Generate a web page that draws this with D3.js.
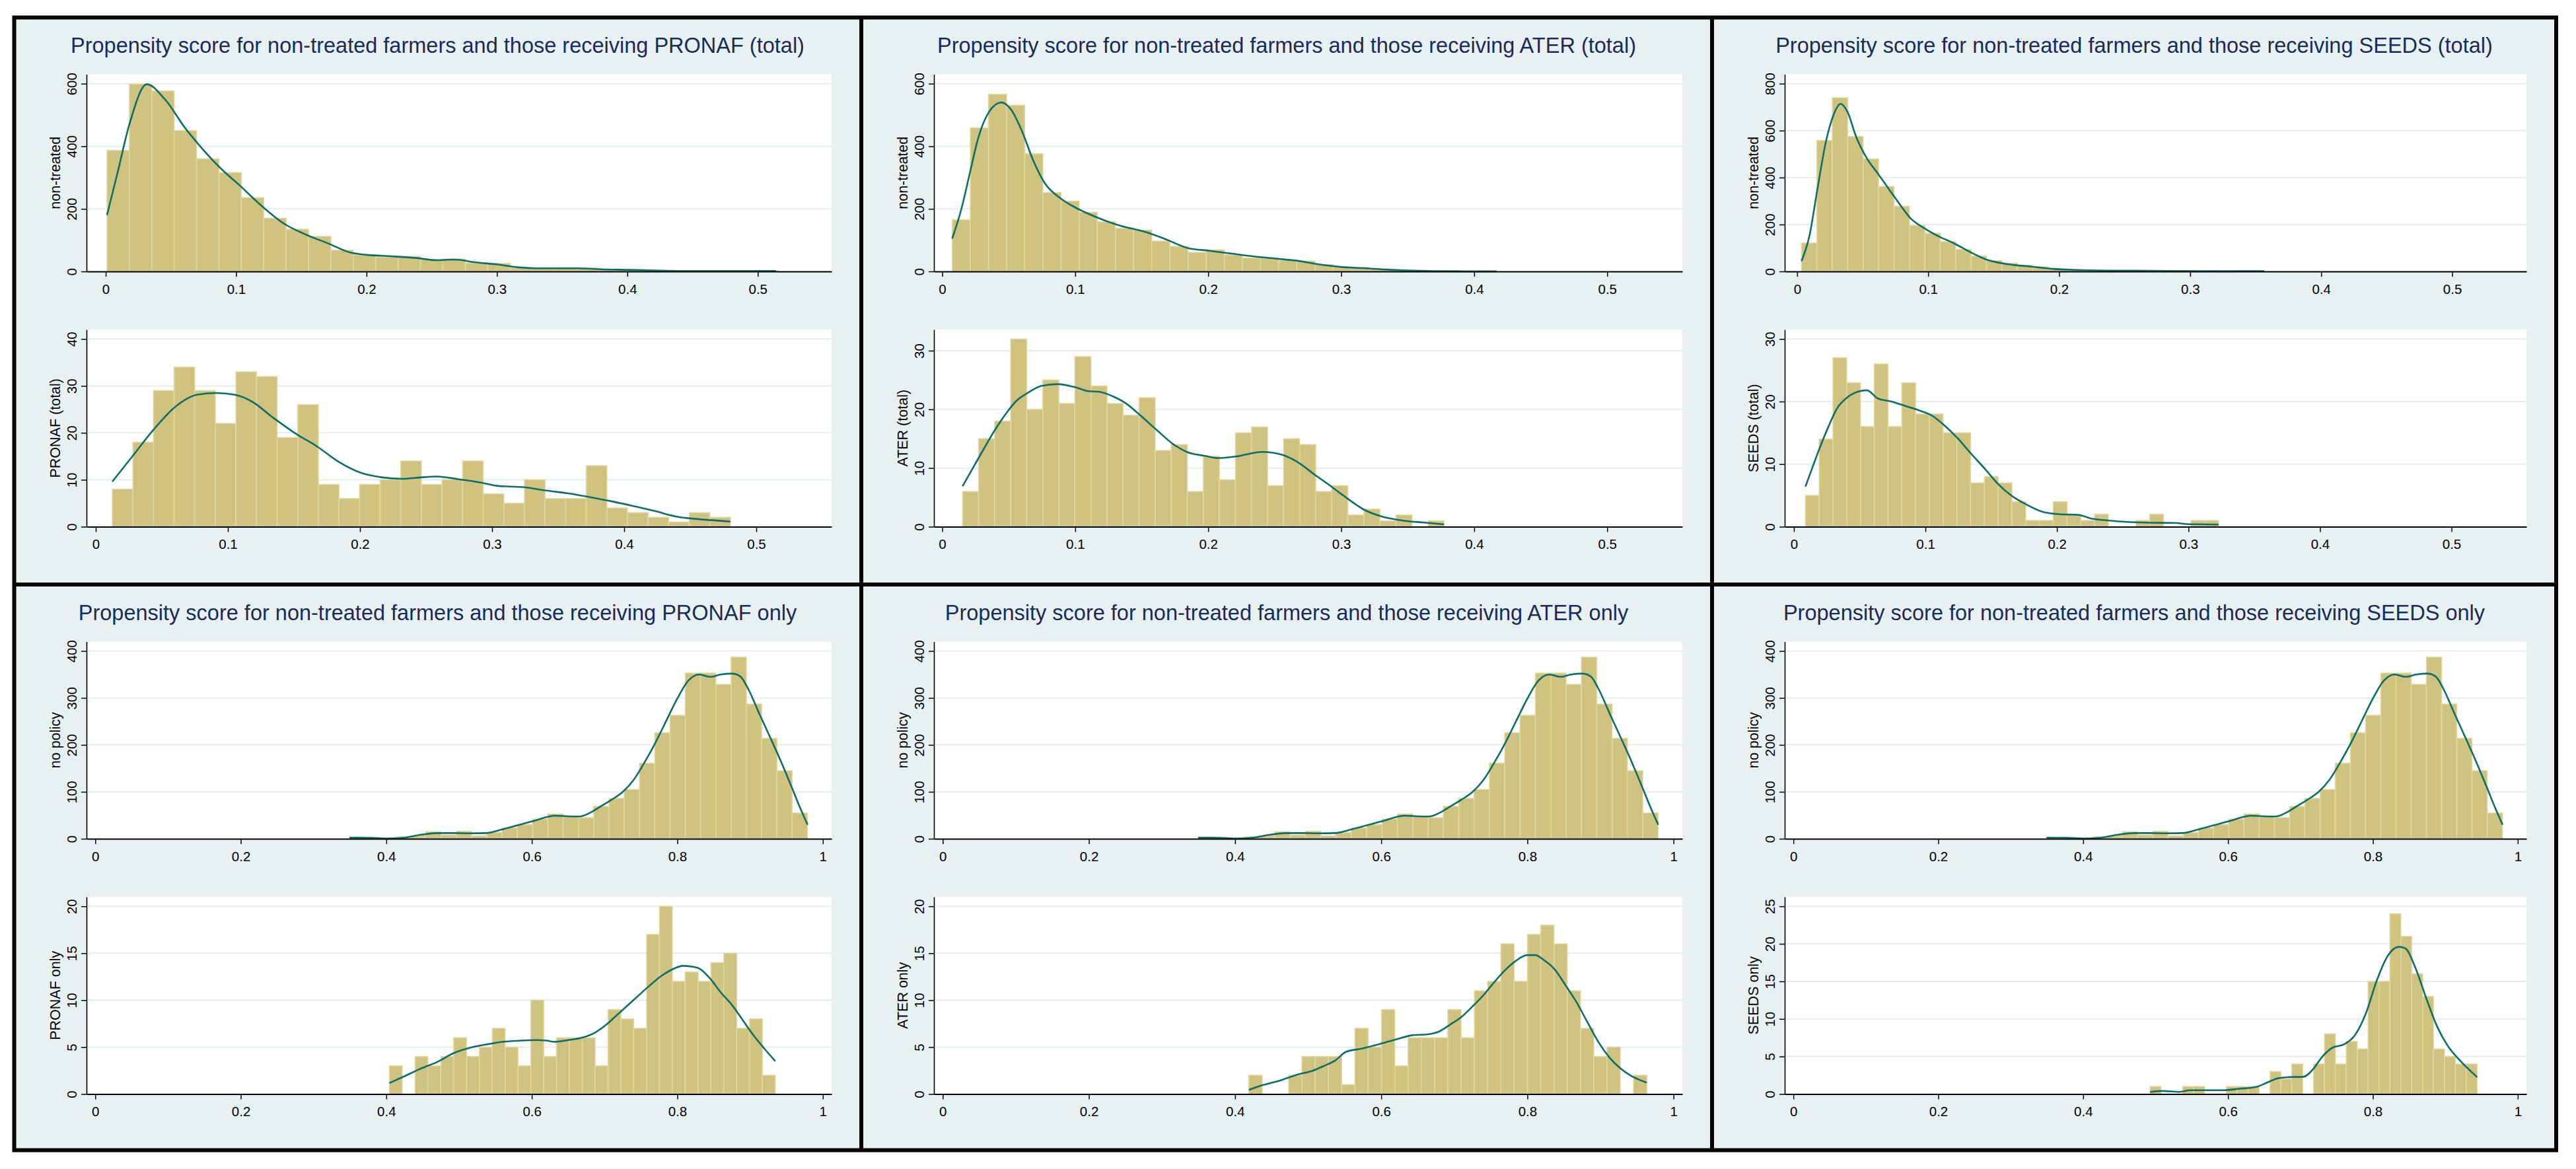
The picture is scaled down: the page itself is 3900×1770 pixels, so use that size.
<!DOCTYPE html>
<html>
<head>
<meta charset="utf-8">
<script src="https://cdn.jsdelivr.net/npm/d3@7"></script>
<style>
  body { margin: 0; background: #fff; }
  text { font-family: "Liberation Sans", Arial, sans-serif; }
</style>
</head>
<body>
<svg id="chart"></svg>
<script>
// ---- text ----
var programs = ["PRONAF", "ATER", "SEEDS"];
var titlesTotal = programs.map(function(p) { return "Propensity score for non-treated farmers and those receiving " + p + " (total)"; });
var titlesOnly = programs.map(function(p) { return "Propensity score for non-treated farmers and those receiving " + p + " only"; });
var yTitlesTotal = ["PRONAF (total)", "ATER (total)", "SEEDS (total)"];
var yTitlesOnly = ["PRONAF only", "ATER only", "SEEDS only"];

// ---- axis ticks / ranges ----
var xTicksTotal = [0, 0.1, 0.2, 0.3, 0.4, 0.5];
var xTicksOnly = [0, 0.2, 0.4, 0.6, 0.8, 1];
var xRangeTotalTop = [[-0.0147, 0.5566], [-0.0062, 0.5565], [-0.0095, 0.5567]];
var xRangeTotalBottom = [[-0.007, 0.557], [-0.0062, 0.5565], [-0.007, 0.557]];
var xRangeOnly = [-0.012, 1.012];
var yTicksNT = [[0, 200, 400, 600], [0, 200, 400, 600], [0, 200, 400, 600, 800]];
var yTicksTotal = [[0, 10, 20, 30, 40], [0, 10, 20, 30], [0, 10, 20, 30]];
var yTicksNoPolicy = [0, 100, 200, 300, 400];
var yTicksOnly = [[0, 5, 10, 15, 20], [0, 5, 10, 15, 20], [0, 5, 10, 15, 20, 25]];

// ---- histogram counts, bins = [first edge, bin width] ----
var ntPronafCounts = [387,599,577,450,360,316,236,170,135,112,68,53,46,48,38,40,27,26,13,12,12,10,7,6,3,2,2,2,2,3];
var ntPronafBins = [0.001, 0.01717];
var pronafTotalCounts = [8,18,29,34,29,22,33,32,19,26,9,6,9,10,14,9,10,14,7,5,10,6,6,13,4,3,2,1,3,2];
var pronafTotalBins = [0.0125, 0.0156];
var ntAterCounts = [165,459,566,531,376,252,225,189,159,138,132,97,80,61,69,53,43,43,36,33,22,13,13,8,3,1,3,3,0,3];
var ntAterBins = [0.0075, 0.01364];
var aterTotalCounts = [6,15,18,32,20,25,21,29,24,21,19,22,13,14,6,12,8,16,17,7,15,14,6,7,2,3,1,2,0,1];
var aterTotalBins = [0.0153, 0.01207];
var ntSeedsCounts = [121,558,740,575,479,362,278,196,163,127,94,66,46,35,26,20,11,8,6,5,4,4,3,3,2,3,3,1,3,3];
var ntSeedsBins = [0.0033, 0.01177];
var seedsTotalCounts = [5,14,27,23,16,26,16,23,18,18,15,15,7,8,7,4,1,1,4,2,1,2,0,0,1,2,0,0,1,1];
var seedsTotalBins = [0.00875, 0.01047];

var noPolicyCounts = [1,0,1,4,6,15,8,16,6,13,23,30,42,53,48,45,69,86,105,161,226,263,353,353,329,387,287,214,145,55];
var noPolicyBins = [0.3494, 0.02098];
var pronafOnlyCounts = [3,0,4,3,4,6,4,5,7,5,3,10,4,6,6,6,3,9,8,7,17,20,12,13,12,14,15,7,8,2];
var pronafOnlyBins = [0.4042, 0.01768];
var aterOnlyCounts = [2,0,0,2,4,4,4,1,7,5,9,3,6,6,6,9,6,11,12,16,12,17,18,16,11,7,4,5,0,2];
var aterOnlyBins = [0.4189, 0.01815];
var seedsOnlyCounts = [1,0,0,1,1,0,0,1,1,1,0,3,2,4,0,4,8,4,7,6,15,15,24,21,16,13,6,5,4,4];
var seedsOnlyBins = [0.4924, 0.01505];

// ---- density curves [score, frequency] ----
var ntPronafDens = [[0.001,180],[0.009,314],[0.0185,475],[0.0315,598],[0.045,552],[0.0617,454],[0.070,412],[0.0868,335],[0.1035,272],[0.120,208],[0.137,152],[0.154,117],[0.171,89],[0.187,61],[0.200,53],[0.212,50],[0.238,43],[0.254,36],[0.267,38],[0.284,29],[0.3006,22],[0.317,13],[0.330,10],[0.363,10],[0.380,7],[0.401,5],[0.422,3],[0.443,1.5],[0.514,1.5]];
var pronafTotalDens = [[0.0125,9.6],[0.0269,14.7],[0.0435,20.6],[0.060,25.5],[0.0765,28.1],[0.091,28.5],[0.1055,28.1],[0.118,26.7],[0.1344,23.2],[0.151,19.9],[0.1675,17.1],[0.184,13.8],[0.2005,11.5],[0.217,10.5],[0.2316,10.2],[0.246,10.5],[0.258,10.7],[0.275,10.1],[0.2915,9.4],[0.304,8.7],[0.3245,8.4],[0.341,7.7],[0.3576,7.1],[0.374,6.3],[0.3907,5.4],[0.407,4.4],[0.4237,3.3],[0.4403,2.1],[0.457,1.6],[0.4804,1.1]];
var ntAterDens = [[0.0075,105],[0.0145,201],[0.0207,313],[0.027,425],[0.0352,510],[0.0444,540],[0.0518,517],[0.0601,447],[0.0684,355],[0.0767,285],[0.0891,233],[0.1016,201],[0.118,170],[0.1347,145],[0.1513,128],[0.168,103],[0.1845,75],[0.201,66],[0.2177,57],[0.2343,48],[0.2508,41],[0.2674,34],[0.284,22],[0.3006,14],[0.3172,10.5],[0.3337,6],[0.3503,3],[0.371,1],[0.4167,0]];
var aterTotalDens = [[0.0153,6.9],[0.0228,9.9],[0.0311,13.2],[0.0394,16.4],[0.0477,19.2],[0.056,21.5],[0.0643,22.8],[0.0746,24.0],[0.087,24.3],[0.0995,23.8],[0.1099,23.1],[0.1182,23.0],[0.1285,22.2],[0.1389,20.9],[0.1493,18.9],[0.1617,16.4],[0.1741,14.0],[0.1845,12.7],[0.1969,12.1],[0.2073,11.7],[0.2218,12.0],[0.2405,12.75],[0.255,12.3],[0.2674,11.0],[0.2799,8.9],[0.2923,6.9],[0.3047,4.8],[0.3172,2.9],[0.3296,1.8],[0.3462,1.05],[0.3628,0.7],[0.3773,0.4]];
var ntSeedsDens = [[0.0033,44],[0.0092,147],[0.0155,352],[0.0218,549],[0.028,670],[0.0331,714],[0.0385,679],[0.0448,577],[0.0531,483],[0.0615,418],[0.0699,352],[0.0782,287],[0.0866,226],[0.0971,184],[0.1075,151],[0.12,119],[0.1326,81],[0.1452,49],[0.1619,30],[0.1787,20.6],[0.1954,11],[0.2121,6.5],[0.2372,3.7],[0.2707,2.8],[0.3126,1],[0.3565,1]];
var seedsTotalDens = [[0.00875,6.4],[0.0138,9.3],[0.02,12.8],[0.0263,16],[0.0325,18.8],[0.0408,20.7],[0.0492,21.6],[0.0554,21.8],[0.0638,20.5],[0.0742,20.0],[0.0846,19.3],[0.095,18.6],[0.1054,17.7],[0.1138,16.3],[0.1242,14.2],[0.1346,11.7],[0.145,9.3],[0.1554,6.8],[0.1658,4.9],[0.1763,3.6],[0.1888,2.4],[0.2013,2.0],[0.2158,1.9],[0.2263,1.3],[0.2388,1.0],[0.2554,0.74],[0.2721,0.63],[0.2888,0.6],[0.3013,0.39],[0.3229,0.35]];
var noPolicyDens = [[0.3494,2.3],[0.3794,1.9],[0.402,0.5],[0.4245,2.3],[0.447,8.4],[0.4696,12.2],[0.4921,12.2],[0.5147,11.7],[0.5372,12.2],[0.5597,20.2],[0.5823,29.5],[0.6048,38.9],[0.6198,46],[0.6311,49.2],[0.6499,47.8],[0.6649,47.4],[0.68,55.3],[0.695,69.4],[0.71,83.5],[0.725,99.9],[0.74,125.7],[0.755,163],[0.77,205],[0.785,252],[0.8001,299],[0.8152,337],[0.83,350],[0.845,345],[0.86,350],[0.875,352],[0.8865,346],[0.8978,318],[0.9128,266],[0.9279,215],[0.9429,163],[0.958,107],[0.969,65],[0.979,30]];
var pronafOnlyDens = [[0.4042,1.17],[0.4245,1.88],[0.447,2.7],[0.4696,3.4],[0.4921,4.34],[0.5147,4.93],[0.5372,5.28],[0.5597,5.56],[0.5823,5.68],[0.6048,5.75],[0.6198,5.7],[0.6311,5.56],[0.6499,5.75],[0.6687,5.99],[0.6875,6.57],[0.7025,7.4],[0.7175,8.45],[0.7325,9.5],[0.7476,10.56],[0.7626,11.6],[0.7776,12.56],[0.7926,13.26],[0.8077,13.66],[0.8227,13.54],[0.83,13.38],[0.845,12.3],[0.86,10.8],[0.875,9.5],[0.89,7.86],[0.905,6.22],[0.92,4.8],[0.9346,3.5]];
var aterOnlyDens = [[0.4189,0.44],[0.4392,0.98],[0.4617,1.45],[0.4842,2.04],[0.5068,2.5],[0.5218,3.0],[0.5368,3.56],[0.5518,4.5],[0.5743,4.85],[0.5968,5.3],[0.6194,5.8],[0.6419,6.25],[0.6644,6.37],[0.6794,6.67],[0.6944,7.4],[0.7095,8.2],[0.7245,9.3],[0.7395,10.5],[0.7545,11.9],[0.7695,13.2],[0.7845,14.2],[0.7996,14.8],[0.8108,14.8],[0.8221,14.3],[0.8371,13.3],[0.8521,11.6],[0.8671,9.8],[0.8821,7.66],[0.8971,5.55],[0.9122,3.9],[0.9272,2.74],[0.9422,1.92],[0.9632,1.22]];
var seedsOnlyDens = [[0.4924,0.29],[0.5098,0.41],[0.5326,0.29],[0.5477,0.5],[0.5705,0.5],[0.5932,0.5],[0.6159,0.7],[0.6386,0.94],[0.6538,1.52],[0.6689,2.1],[0.6841,2.25],[0.7038,2.3],[0.7182,3.4],[0.7295,4.9],[0.7447,6.2],[0.7598,6.6],[0.775,7.8],[0.7902,10.7],[0.8053,15.1],[0.8205,18.4],[0.8356,19.6],[0.8447,19.4],[0.8583,16.9],[0.8735,12.8],[0.8886,9.0],[0.9038,6.35],[0.9189,4.6],[0.9439,2.25]];

// group the arrays per panel
var ntCounts = [ntPronafCounts, ntAterCounts, ntSeedsCounts];
var ntBins = [ntPronafBins, ntAterBins, ntSeedsBins];
var ntDens = [ntPronafDens, ntAterDens, ntSeedsDens];
var totalCounts = [pronafTotalCounts, aterTotalCounts, seedsTotalCounts];
var totalBins = [pronafTotalBins, aterTotalBins, seedsTotalBins];
var totalDens = [pronafTotalDens, aterTotalDens, seedsTotalDens];
var onlyCounts = [pronafOnlyCounts, aterOnlyCounts, seedsOnlyCounts];
var onlyBins = [pronafOnlyBins, aterOnlyBins, seedsOnlyBins];
var onlyDens = [pronafOnlyDens, aterOnlyDens, seedsOnlyDens];

// ---- layout ----
var svgWidth = 3900, svgHeight = 1770;
var colBounds = [[24, 1301], [1307, 2589], [2595, 3867]];
var rowBounds = [[29, 882], [888, 1739]];
var plotLeft = 107, plotRight = 42, plotTops = [83.5, 470], plotH = 298.5;

var bg = "#e8f1f2", barFill = "#cfc37f", barEdge = "#e1d8a3", lineCol = "#0c6e66";

var svg = d3.select("#chart")
  .attr("width", svgWidth)
  .attr("height", svgHeight);

svg.append("rect").attr("width", svgWidth).attr("height", svgHeight).attr("fill", "#fff");

function drawHist(spec, left, top, w, h) {
  var g = svg.append("g").attr("transform", "translate(" + left + "," + top + ")");
  g.append("rect").attr("width", w).attr("height", h).attr("fill", "#fff");

  var x = d3.scaleLinear().domain(spec.xRange).range([0, w]);
  var yMax = 1.05 * Math.max(d3.max(spec.yTicks), d3.max(spec.counts));
  var y = d3.scaleLinear().domain([0, yMax]).range([h, 0]);

  // grid
  g.selectAll("line.grid")
    .data(spec.yTicks.filter(function(d) { return d > 0; }))
    .enter().append("line")
    .attr("x1", 0).attr("x2", w)
    .attr("y1", function(d) { return y(d); })
    .attr("y2", function(d) { return y(d); })
    .attr("stroke", "#e2eced").attr("stroke-width", 2);

  // bars
  var bars = spec.counts.map(function(c, i) {
    return { x0: spec.bins[0] + i * spec.bins[1], x1: spec.bins[0] + (i + 1) * spec.bins[1], c: c };
  }).filter(function(d) { return d.c > 0; });

  g.selectAll("rect.bar")
    .data(bars)
    .enter().append("rect")
    .attr("x", function(d) { return x(d.x0); })
    .attr("y", function(d) { return y(d.c); })
    .attr("width", function(d) { return x(d.x1) - x(d.x0); })
    .attr("height", function(d) { return h - y(d.c); })
    .attr("fill", barFill)
    .attr("stroke", barEdge)
    .attr("stroke-width", 1.5);

  // density
  var line = d3.line()
    .x(function(d) { return x(d[0]); })
    .y(function(d) { return y(d[1]); })
    .curve(d3.curveMonotoneX);
  g.append("path")
    .attr("d", line(spec.dens))
    .attr("fill", "none")
    .attr("stroke", lineCol)
    .attr("stroke-width", 2.6);

  // x axis
  var xa = g.append("g")
    .attr("transform", "translate(0," + h + ")")
    .call(d3.axisBottom(x).tickValues(spec.xTicks)
      .tickFormat(function(d) { return String(d); })
      .tickSize(8).tickSizeOuter(0).tickPadding(11));
  xa.attr("font-family", "Liberation Sans, Arial, sans-serif").attr("font-size", 20.5);
  xa.select(".domain").attr("stroke", "#000").attr("stroke-width", 2.2);
  xa.selectAll(".tick line").attr("stroke", "#000").attr("stroke-width", 1.5);
  xa.selectAll(".tick text").attr("fill", "#000");

  // y axis with vertical labels
  var ya = g.append("g")
    .call(d3.axisLeft(y).tickValues(spec.yTicks)
      .tickFormat(function(d) { return String(d); })
      .tickSize(8).tickSizeOuter(0));
  ya.attr("font-family", "Liberation Sans, Arial, sans-serif").attr("font-size", 20.5);
  ya.select(".domain").attr("stroke", "#000").attr("stroke-width", 1.6);
  ya.selectAll(".tick line").attr("stroke", "#000").attr("stroke-width", 1.5);
  ya.selectAll(".tick text")
    .attr("x", null).attr("dy", null)
    .attr("transform", "translate(-15,0) rotate(-90)")
    .attr("text-anchor", "middle")
    .attr("fill", "#000");

  g.append("text")
    .attr("transform", "translate(-40," + (h / 2) + ") rotate(-90)")
    .attr("text-anchor", "middle")
    .attr("font-size", 21.5)
    .attr("fill", "#000")
    .text(spec.yTitle);
}

for (var r = 0; r < 2; r++) {
  for (var c = 0; c < 3; c++) {
    var x0 = colBounds[c][0], x1 = colBounds[c][1];
    var y0 = rowBounds[r][0], y1 = rowBounds[r][1];
    svg.append("rect")
      .attr("x", x0).attr("y", y0)
      .attr("width", x1 - x0).attr("height", y1 - y0)
      .attr("fill", bg);
    svg.append("text")
      .attr("x", (x0 + x1) / 2).attr("y", y0 + 51)
      .attr("text-anchor", "middle")
      .attr("font-size", 32.5)
      .attr("fill", "#1b2b57")
      .text(r === 0 ? titlesTotal[c] : titlesOnly[c]);

    var specs;
    if (r === 0) {
      specs = [
        { counts: ntCounts[c], bins: ntBins[c], dens: ntDens[c], xRange: xRangeTotalTop[c], xTicks: xTicksTotal, yTicks: yTicksNT[c], yTitle: "non-treated" },
        { counts: totalCounts[c], bins: totalBins[c], dens: totalDens[c], xRange: xRangeTotalBottom[c], xTicks: xTicksTotal, yTicks: yTicksTotal[c], yTitle: yTitlesTotal[c] }
      ];
    } else {
      specs = [
        { counts: noPolicyCounts, bins: noPolicyBins, dens: noPolicyDens, xRange: xRangeOnly, xTicks: xTicksOnly, yTicks: yTicksNoPolicy, yTitle: "no policy" },
        { counts: onlyCounts[c], bins: onlyBins[c], dens: onlyDens[c], xRange: xRangeOnly, xTicks: xTicksOnly, yTicks: yTicksOnly[c], yTitle: yTitlesOnly[c] }
      ];
    }
    specs.forEach(function(s, k) {
      drawHist(s, x0 + plotLeft, y0 + plotTops[k], (x1 - plotRight) - (x0 + plotLeft), plotH);
    });
  }
}

// black frame
svg.append("rect")
  .attr("x", 21.5).attr("y", 26.5)
  .attr("width", 3848.5).attr("height", 1715)
  .attr("fill", "none").attr("stroke", "#000").attr("stroke-width", 6);
[1304, 2592].forEach(function(xv) {
  svg.append("line").attr("x1", xv).attr("x2", xv).attr("y1", 26.5).attr("y2", 1741.5)
    .attr("stroke", "#000").attr("stroke-width", 6);
});
svg.append("line").attr("x1", 21.5).attr("x2", 3870).attr("y1", 885).attr("y2", 885)
  .attr("stroke", "#000").attr("stroke-width", 6);
</script>
</body>
</html>
